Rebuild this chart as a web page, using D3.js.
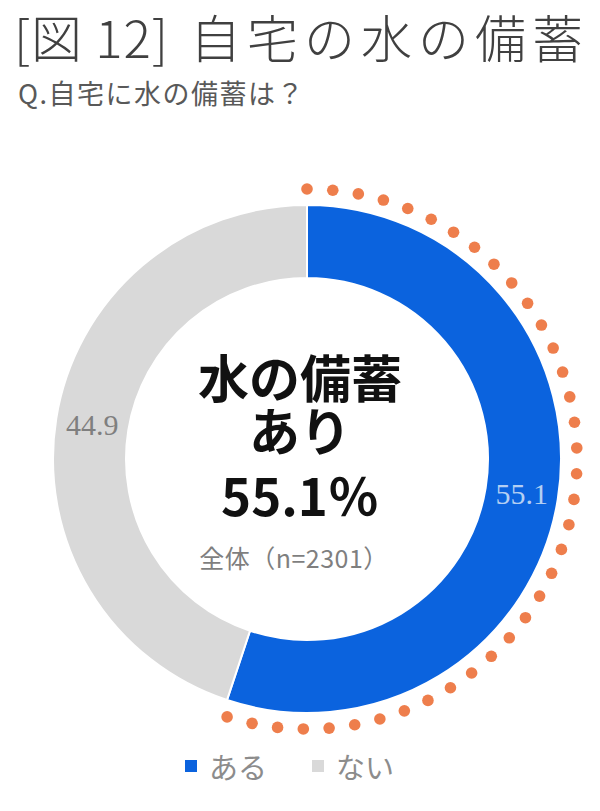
<!DOCTYPE html>
<html><head><meta charset="utf-8">
<script src="https://cdn.jsdelivr.net/npm/d3@7"></script>
<style>
html,body{margin:0;padding:0;background:#fff;}
svg{display:block;}
</style></head>
<body>
<svg id="chart" width="600" height="811"></svg>
<script>
const categories = ["ある", "ない"];
const values = [55.1, 44.9];
const colors = ["#0B63DE", "#D9D9D9"];
const labelColors = ["#B4CFF3", "#7F7F7F"];
const titlePrefix = "[図 12]";
const titleText = "自宅の水の備蓄";
const subtitleText = "Q.自宅に水の備蓄は？";
const centerLines = ["水の備蓄", "あり", "55.1％"];
const noteText = "全体（n=2301）";
const dotCount = 37;

const svg = d3.select("#chart");
const font = "'Noto Sans CJK JP', 'Noto Sans', sans-serif";

svg.append("text").attr("x", 14).attr("y", 58)
  .attr("font-family", font).attr("font-size", 51).attr("font-weight", 300)
  .attr("letter-spacing", 1)
  .attr("fill", "#404040").text(titlePrefix);
svg.append("text").attr("x", 190).attr("y", 58)
  .attr("font-family", font).attr("font-size", 51).attr("font-weight", 300)
  .attr("letter-spacing", 6)
  .attr("fill", "#404040").text(titleText);
svg.append("text").attr("x", 18).attr("y", 104)
  .attr("font-family", font).attr("font-size", 27)
  .attr("letter-spacing", 1.5)
  .attr("fill", "#595959").text(subtitleText);

const cx = 307, cy = 459, rOuter = 254, rInner = 181, rDots = 270;
const g = svg.append("g").attr("transform", `translate(${cx},${cy})`);

const pie = d3.pie().sort(null).value(d => d.v);
const data = categories.map((c, i) => ({c, v: values[i], i}));
const arcs = pie(data);
const arc = d3.arc().innerRadius(rInner).outerRadius(rOuter);

g.selectAll("path.slice").data(arcs).join("path")
  .attr("class", "slice")
  .attr("d", arc)
  .attr("fill", d => colors[d.data.i])
  .attr("stroke", "#fff").attr("stroke-width", 2);

g.selectAll("text.lbl").data(arcs).join("text")
  .attr("class", "lbl")
  .attr("transform", d => `translate(${arc.centroid(d)})`)
  .attr("text-anchor", "middle").attr("dominant-baseline", "central")
  .attr("font-family", "'Liberation Serif', 'Times New Roman', serif")
  .attr("font-size", 30)
  .attr("fill", d => labelColors[d.data.i])
  .text(d => d.data.v.toFixed(1));

// dotted highlight along the "ある" arc
const a0 = arcs[0].startAngle, a1 = arcs[0].endAngle - 0.02;
const dotAngles = d3.range(dotCount).map(k => a0 + (a1 - a0) * k / (dotCount - 1));
g.selectAll("circle.dot").data(dotAngles).join("circle")
  .attr("class", "dot")
  .attr("cx", a => rDots * Math.sin(a))
  .attr("cy", a => -rDots * Math.cos(a))
  .attr("r", 5.8)
  .attr("fill", "#EE7E4C");

// center text (one multi-line text block)
const ys = [380, 433, 498];
const ct = svg.append("text")
  .attr("text-anchor", "middle")
  .attr("font-family", font).attr("font-size", 51).attr("font-weight", 700)
  .attr("fill", "#111");
centerLines.forEach((t, i) => {
  ct.append("tspan").attr("x", 300).attr("y", ys[i] + 18).text(t);
});
svg.append("text").attr("x", 294).attr("y", 557)
  .attr("text-anchor", "middle").attr("dominant-baseline", "central")
  .attr("font-family", font).attr("font-size", 25)
  .attr("letter-spacing", 0.5)
  .attr("fill", "#7F7F7F").text(noteText);

// legend
const legendX = [185, 312];
const lg = svg.append("g");
categories.forEach((c, i) => {
  lg.append("rect").attr("x", legendX[i]).attr("y", 760).attr("width", 12).attr("height", 12)
    .attr("fill", colors[i]);
  lg.append("text").attr("x", legendX[i] + 24).attr("y", 766)
    .attr("dominant-baseline", "central")
    .attr("font-family", font).attr("font-size", 29)
    .attr("fill", "#8C8C8C").text(c);
});
</script>
</body></html>
